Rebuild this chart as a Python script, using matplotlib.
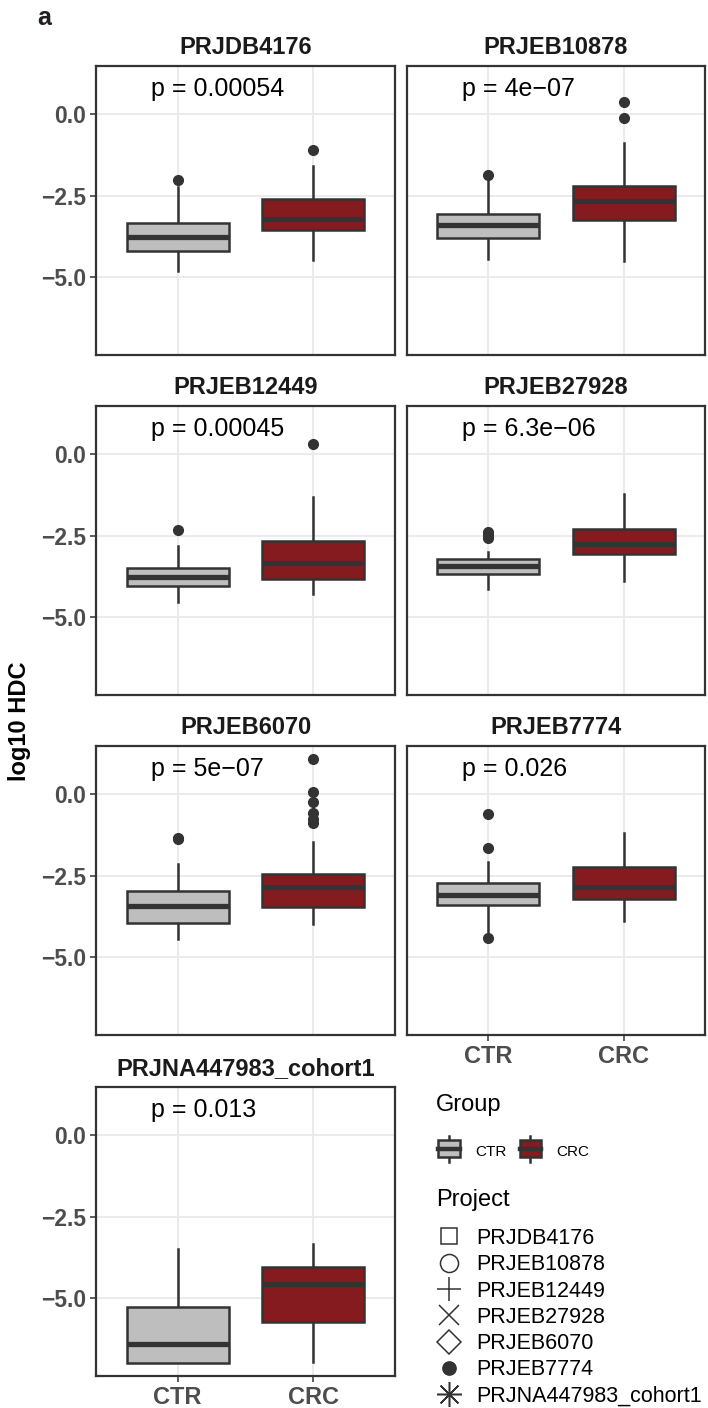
import matplotlib
matplotlib.use("Agg")
import matplotlib.pyplot as plt
from matplotlib.patches import Rectangle
from matplotlib.lines import Line2D
from matplotlib.legend_handler import HandlerBase
from matplotlib.ticker import FuncFormatter

plt.rcParams["font.family"] = ["Liberation Sans", "DejaVu Sans"]

# ---------------- data ----------------
projects = ["PRJDB4176", "PRJEB10878", "PRJEB12449", "PRJEB27928",
            "PRJEB6070", "PRJEB7774", "PRJNA447983_cohort1"]
groups = ["CTR", "CRC"]
p_labels = ["p = 0.00054", "p = 4e\u221207", "p = 0.00045", "p = 6.3e\u221206",
            "p = 5e\u221207", "p = 0.026", "p = 0.013"]

ctr_q3 = [-3.32, -3.05, -3.50, -3.22, -2.98, -2.71, -5.28]
ctr_med = [-3.75, -3.40, -3.75, -3.42, -3.44, -3.10, -6.40]
ctr_q1 = [-4.20, -3.78, -4.04, -3.67, -3.96, -3.40, -6.98]
ctr_whishi = [-2.23, -2.05, -2.80, -2.99, -2.15, -2.07, -3.48]
ctr_whislo = [-4.81, -4.43, -4.54, -4.13, -4.43, -4.30, -6.98]
ctr_fliers = [[-2.00], [-1.87], [-2.33], [-2.38, -2.47, -2.56],
              [-1.33, -1.38], [-0.61, -1.64, -4.41], []]

crc_q3 = [-2.59, -2.19, -2.67, -2.30, -2.43, -2.22, -4.03]
crc_med = [-3.20, -2.66, -3.33, -2.76, -2.84, -2.85, -4.56]
crc_q1 = [-3.54, -3.25, -3.83, -3.07, -3.46, -3.22, -5.74]
crc_whishi = [-1.59, -0.87, -1.30, -1.23, -1.45, -1.18, -3.32]
crc_whislo = [-4.48, -4.51, -4.29, -3.89, -3.99, -3.89, -6.96]
crc_fliers = [[-1.10], [0.39, -0.10], [0.32], [],
              [1.08, 0.08, -0.24, -0.56, -0.77, -0.87], [], []]

y_ticks = [0.0, -2.5, -5.0]

# ---------------- style ----------------
W, H = 708, 1408
EDGE = "#333333"
FILLS = ["#BEBEBE", "#861B1F"]
TICKCOL = "#4D4D4D"

fig = plt.figure(figsize=(W / 100, H / 100), dpi=100)


def px_axes(left, top, width, height):
    return fig.add_axes([left / W, 1 - (top + height) / H, width / W, height / H])


col_left = [96, 407]
col_width = [299, 298]
row_top = [66, 406, 746, 1087]
panel_h = 289

all_vals = (ctr_whislo + ctr_whishi + crc_whislo + crc_whishi
            + [v for f in ctr_fliers + crc_fliers for v in f])
lo, hi = min(all_vals), max(all_vals)
pad = 0.05 * (hi - lo)
ylim = (lo - pad, hi + pad)

n = len(projects)
for i, proj in enumerate(projects):
    col, row = i % 2, i // 2
    ax = px_axes(col_left[col], row_top[row], col_width[col], panel_h)
    stats = [
        dict(med=ctr_med[i], q1=ctr_q1[i], q3=ctr_q3[i], whislo=ctr_whislo[i],
             whishi=ctr_whishi[i], fliers=ctr_fliers[i]),
        dict(med=crc_med[i], q1=crc_q1[i], q3=crc_q3[i], whislo=crc_whislo[i],
             whishi=crc_whishi[i], fliers=crc_fliers[i]),
    ]
    bp = ax.bxp(stats, positions=[1, 2], widths=0.75, patch_artist=True,
                showcaps=False,
                boxprops=dict(edgecolor=EDGE, linewidth=1.8),
                medianprops=dict(color=EDGE, linewidth=3.8, solid_capstyle="butt"),
                whiskerprops=dict(color=EDGE, linewidth=1.8),
                flierprops=dict(marker="o", markerfacecolor=EDGE,
                                markeredgecolor=EDGE, markersize=7, linestyle="none"))
    for patch, c in zip(bp["boxes"], FILLS):
        patch.set_facecolor(c)
        patch.set_zorder(3)
    for m in bp["medians"]:
        m.set_zorder(4)

    ax.set_xlim(0.4, 2.6)
    ax.set_ylim(*ylim)
    ax.set_xticks([1, 2])
    ax.set_xticklabels(groups)
    ax.set_yticks(y_ticks)
    ax.yaxis.set_major_formatter(FuncFormatter(lambda v, p: f"{v:.1f}".replace("-", "\u2212")))
    ax.set_axisbelow(True)
    ax.grid(True, color="#EBEBEB", linewidth=1.4)
    for s in ax.spines.values():
        s.set_color(EDGE)
        s.set_linewidth(1.6)
        s.set_zorder(6)

    show_x = (i + 2) >= n
    show_y = col == 0
    ax.tick_params(axis="x", length=4.3 if show_x else 0, width=1.1, color=EDGE,
                   labelbottom=show_x, labelsize=17, labelcolor=TICKCOL, pad=3)
    ax.tick_params(axis="y", length=4.3 if show_y else 0, width=1.1, color=EDGE,
                   labelleft=show_y, labelsize=16.5, labelcolor=TICKCOL, pad=3)
    for lab in ax.get_xticklabels() + ax.get_yticklabels():
        lab.set_fontweight("bold")

    ax.text(0.805, 0.55, p_labels[i], ha="left", va="baseline", fontsize=18,
            color="black", zorder=7)
    ax.text(0.5, 1 + 12 / panel_h, proj, transform=ax.transAxes, ha="center",
            va="baseline", fontsize=17, fontweight="bold", color="#1A1A1A")

# figure-level texts
fig.text(37 / W, 1 - 25 / H, "a", ha="left", va="baseline", fontsize=18,
         fontweight="bold", color="#231F20")
fig.text(20 / W, 1 - 721 / H, "log10 HDC", rotation=90, ha="center", va="center",
         fontsize=17, fontweight="bold", color="black")


# ---------------- legends ----------------
class BoxKeyHandler(HandlerBase):
    def legend_artist(self, legend, orig_handle, fontsize, handlebox):
        x0, y0 = -handlebox.xdescent, -handlebox.ydescent
        w = handlebox.width
        h = handlebox.height + handlebox.ydescent
        tr = handlebox.get_transform()
        fc = orig_handle.get_facecolor()
        rect = Rectangle((x0 + 0.06 * w, y0 + 0.18 * h), 0.88 * w, 0.64 * h,
                         facecolor=fc, edgecolor=EDGE, linewidth=1.8, transform=tr)
        med = Line2D([x0 + 0.06 * w, x0 + 0.94 * w], [y0 + 0.48 * h] * 2,
                     color=EDGE, linewidth=3.2, transform=tr)
        wl = Line2D([x0 + 0.5 * w] * 2, [y0, y0 + 0.18 * h], color=EDGE,
                    linewidth=1.8, transform=tr)
        wh = Line2D([x0 + 0.5 * w] * 2, [y0 + 0.82 * h, y0 + h], color=EDGE,
                    linewidth=1.8, transform=tr)
        for a in (wl, wh, rect, med):
            handlebox.add_artist(a)
        return rect


fig.text(436 / W, 1 - 1105 / H, "Group", ha="left", va="center", fontsize=17)
fig.text(436 / W, 1 - 1200 / H, "Project", ha="left", va="center", fontsize=17)

grp_handles = [Rectangle((0, 0), 1, 1, facecolor=c) for c in FILLS]
fs_g = 11
fpx_g = fs_g * 100 / 72
fig.legend(grp_handles, groups, loc="upper left",
           bbox_to_anchor=(437 / W, 1 - 1141 / H), ncol=2, frameon=False,
           borderpad=0, borderaxespad=0, fontsize=fs_g,
           handlelength=24 / fpx_g, handleheight=26 / fpx_g,
           handletextpad=14 / fpx_g, columnspacing=12 / fpx_g,
           handler_map={Rectangle: BoxKeyHandler()})

shape_specs = [("s", 12, "none"), ("o", 13, "none"), ("+", 17, EDGE),
               ("x", 14, EDGE), ("D", 12.5, "none"), ("o", 9.5, EDGE),
               ((8, 2, 0), 18, EDGE)]
proj_handles = [Line2D([], [], linestyle="none", marker=m, markersize=ms,
                       markerfacecolor=fc, markeredgecolor=EDGE, markeredgewidth=1.1)
                for m, ms, fc in shape_specs]
fs_p = 15.5
fpx_p = fs_p * 100 / 72
fig.legend(proj_handles, projects, loc="upper left",
           bbox_to_anchor=(436 / W, 1 - 1228 / H), frameon=False,
           borderpad=0, borderaxespad=0, fontsize=fs_p,
           handlelength=26 / fpx_p, handletextpad=14 / fpx_p,
           labelspacing=0.245)

fig.savefig("out.png", dpi=100)
